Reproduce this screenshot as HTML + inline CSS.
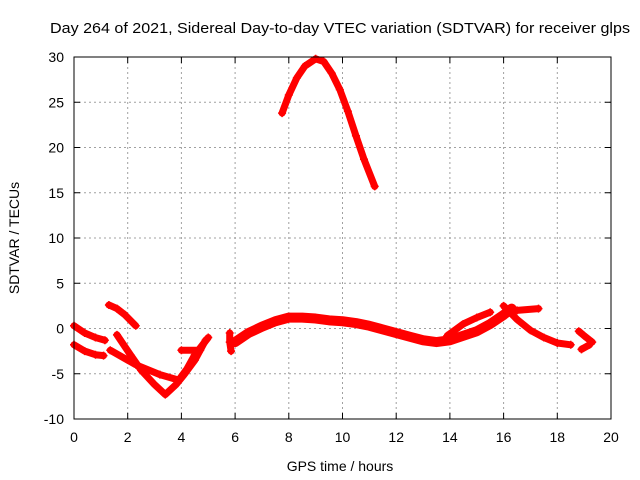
<!DOCTYPE html>
<html><head><meta charset="utf-8"><style>
body{margin:0;background:#fff;}
svg{display:block;font-family:"Liberation Sans",sans-serif;}
</style></head><body>
<svg id="chart" width="640" height="480">
<rect width="640" height="480" fill="#fff"/>
<text x="50" y="33" font-size="15" textLength="580" lengthAdjust="spacingAndGlyphs">Day 264 of 2021, Sidereal Day-to-day VTEC variation (SDTVAR) for receiver glps</text>
<g id="grid"></g>
<g id="ticks"></g>
<g id="series"></g>
<rect x="74" y="57" width="537" height="362" fill="none" stroke="#000" stroke-width="1"/>
<text x="340" y="471" font-size="14" text-anchor="middle">GPS time / hours</text>
<text transform="translate(19,238) rotate(-90)" font-size="14" text-anchor="middle">SDTVAR / TECUs</text>
</svg>
<script>
const xTicks=[0,2,4,6,8,10,12,14,16,18,20];
const yTicks=[-10,-5,0,5,10,15,20,25,30];
const arcTrack=[[7.75,23.8],[8.0,25.8],[8.3,27.7],[8.6,29.0],[9.0,29.8],[9.3,29.5],[9.6,28.2],[9.9,26.4],[10.2,24.0],[10.5,21.3],[10.8,18.7],[11.2,15.7]];
const humpTrack=[[6.0,-1.5],[6.5,-0.5],[7.0,0.2],[7.5,0.8],[8.0,1.2],[8.5,1.2],[9.0,1.1],[9.5,0.9],[10.0,0.8],[10.5,0.6],[11.0,0.3],[11.5,-0.1],[12.0,-0.5],[12.5,-0.9],[13.0,-1.3],[13.5,-1.5],[14.0,-1.3],[14.5,-0.8],[15.0,-0.3],[15.5,0.5],[16.0,1.5],[16.3,2.2]];
const lateTrack1=[[16.0,2.5],[16.5,1.0],[17.0,-0.2],[17.5,-1.0],[18.0,-1.6],[18.5,-1.8]];
const lateTrack2=[[16.5,2.0],[17.3,2.2]];
const lateTrack3=[[13.9,-0.8],[14.5,0.5],[15.0,1.2],[15.5,1.8]];
const lateTrack4=[[18.8,-0.3],[19.0,-0.8],[19.3,-1.5]];
const lateTrack5=[[18.9,-2.3],[19.2,-1.8]];
const earlyA=[[0,0.3],[0.4,-0.5],[0.8,-1.0],[1.15,-1.3]];
const earlyB=[[0,-1.8],[0.4,-2.5],[0.8,-2.9],[1.1,-3.0]];
const earlyC=[[1.3,2.6],[1.6,2.2],[1.9,1.5],[2.3,0.3]];
const earlyD=[[1.6,-0.7],[2.1,-2.9],[2.5,-4.6],[3.0,-6.2],[3.4,-7.3],[3.8,-6.2],[4.1,-5.1],[4.5,-3.5],[4.9,-1.3]];
const earlyE=[[1.35,-2.4],[2.3,-4.0],[3.2,-5.1],[3.9,-5.7],[4.2,-4.5],[4.5,-2.9],[5.0,-1.0]];
const earlyF=[[4.0,-2.4],[4.7,-2.4]];
const earlyG=[[5.8,-0.5],[5.8,-1.5],[5.85,-2.5]];
const tracks=[arcTrack,humpTrack,lateTrack1,lateTrack2,lateTrack3,lateTrack4,lateTrack5,earlyA,earlyB,earlyC,earlyD,earlyE,earlyF,earlyG];
const X=v=>74+v*537/20, Y=v=>419-(v+10)*362/40;
const NS='http://www.w3.org/2000/svg';
const grid=document.getElementById('grid'),ticks=document.getElementById('ticks'),ser=document.getElementById('series');
function mk(t,a,p){const e=document.createElementNS(NS,t);for(const k in a)e.setAttribute(k,a[k]);p.appendChild(e);return e;}
xTicks.forEach(t=>{const x=X(t);
 if(t>0&&t<20){const g=mk('line',{x1:x,x2:x,y1:57,y2:419,stroke:'#a0a0a0','stroke-dasharray':'2,3'},grid);
 
 }
 mk('line',{x1:x,x2:x,y1:419,y2:413,stroke:'#000'},ticks);mk('line',{x1:x,x2:x,y1:57,y2:63,stroke:'#000'},ticks);
 const l=mk('text',{x:x,y:442,'font-size':14,'text-anchor':'middle'},ticks);l.textContent=t;
 
 });
yTicks.forEach(t=>{const y=Y(t);
 if(t>-10&&t<30){const g=mk('line',{x1:74,x2:611,y1:y,y2:y,stroke:'#a0a0a0','stroke-dasharray':'2,3'},grid);
 
 }
 mk('line',{x1:74,x2:80,y1:y,y2:y,stroke:'#000'},ticks);mk('line',{x1:611,x2:605,y1:y,y2:y,stroke:'#000'},ticks);
 const l=mk('text',{x:64,y:y+5,'font-size':14,'text-anchor':'end'},ticks);l.textContent=t;
 
 });
tracks.forEach((tr,i)=>{
 const p=mk('polyline',{points:tr.map(d=>X(d[0])+','+Y(d[1])).join(' '),fill:'none',stroke:'#ff0000','stroke-width':(i===1?10:7),'stroke-linejoin':'round','stroke-linecap':'round'},ser);
 
 
 tr.forEach(d=>{const x=X(d[0]),y=Y(d[1]);
  const m=mk('path',{d:`M${x-4},${y}H${x+4}M${x},${y-4}V${y+4}`,stroke:'#ff0000','stroke-width':1.5},ser);
  
  });
});
</script>
</body></html>
